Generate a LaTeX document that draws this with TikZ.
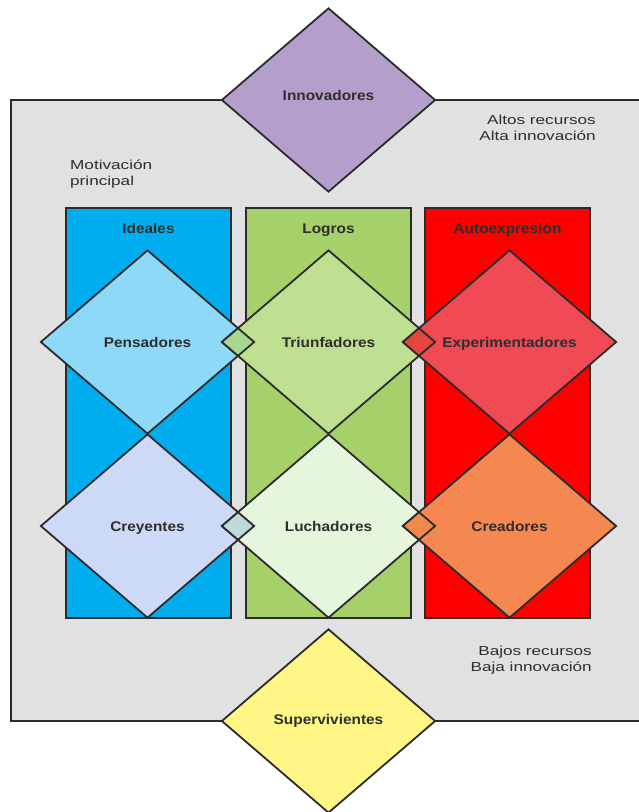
\documentclass[tikz,border=0pt]{standalone}
\usepackage{fontspec}
\setmainfont{Liberation Sans}
\newfontfamily\labfont[FakeStretch=1.1]{Liberation Sans}
\newfontfamily\cornerfont[FakeStretch=1.32]{Liberation Sans}
\usetikzlibrary{shapes.geometric}
\definecolor{lineC}{HTML}{2B2B2B}
\definecolor{textC}{HTML}{2E2E2E}
\definecolor{frameC}{HTML}{E1E1E1}
\definecolor{innovC}{HTML}{B49FCC}
\definecolor{supervC}{HTML}{FFF685}
\definecolor{blueC}{HTML}{00AEEF}
\definecolor{greenC}{HTML}{A6D16A}
\definecolor{redC}{HTML}{FF0000}
\definecolor{pensC}{HTML}{8ED8F8}
\definecolor{triC}{HTML}{BEDF90}
\definecolor{expC}{HTML}{F04A55}
\definecolor{creyC}{HTML}{CCDAF7}
\definecolor{luchC}{HTML}{E6F6DC}
\definecolor{creaC}{HTML}{F58750}
\definecolor{ovPT}{HTML}{A8D890}
\definecolor{ovTE}{HTML}{E4463E}
\definecolor{ovCL}{HTML}{BED9D8}
\definecolor{ovLC}{HTML}{F08A4C}
\tikzset{
  bigdia/.style={diamond, draw=lineC, line width=1.8pt, minimum width=214pt,
    minimum height=184pt, inner sep=0pt, text=textC, text height=10pt, text depth=0pt,
    font=\labfont\bfseries\fontsize{14}{16}\selectfont},
  smalldia/.style={diamond, draw=lineC, line width=1.8pt, minimum width=33pt,
    minimum height=28.4pt, inner sep=0pt},
  colbox/.style={rectangle, draw=lineC, line width=1.8pt, minimum width=165pt,
    minimum height=410pt, inner sep=0pt},
  collabel/.style={text=textC, inner sep=0pt, text height=10pt, text depth=0pt,
    font=\labfont\bfseries\fontsize{14}{16}\selectfont},
  cornertext/.style={text=textC, inner sep=0pt,
    font=\cornerfont\fontsize{13}{16}\selectfont}
}
\begin{document}
\begin{tikzpicture}[x=1pt,y=-1pt]
\useasboundingbox (0,0) rectangle (639,812);
\clip (0,0) rectangle (639,812);
% frame
\node[rectangle, draw=lineC, fill=frameC, line width=1.8pt, minimum width=649pt,
  minimum height=621pt, inner sep=0pt] (frame) at (335.5,410.5) {};
% columns
\node[colbox, fill=blueC] (colI) at (148.5,413) {};
\node[colbox, fill=greenC] (colL) at (328.5,413) {};
\node[colbox, fill=redC] (colA) at (507.5,413) {};
\node[collabel] (labI) at (148.5,228) {Ideales};
\node[collabel] (labL) at (328.5,228) {Logros};
\node[collabel] (labA) at (507.5,228) {Autoexpresión};
% outer diamonds
\node[bigdia, fill=innovC] (innov) at (328.5,100) {\raisebox{5pt}{Innovadores}};
\node[bigdia, fill=supervC] (superv) at (328.5,721) {\raisebox{2pt}{Supervivientes}};
% row 1
\node[bigdia, fill=pensC] (pens) at (147.5,342) {Pensadores};
\node[bigdia, fill=triC] (triu) at (328.5,342) {Triunfadores};
\node[bigdia, fill=expC] (expe) at (509.5,342) {Experimentadores};
% row 2
\node[bigdia, fill=creyC] (crey) at (147.5,526) {Creyentes};
\node[bigdia, fill=luchC] (luch) at (328.5,526) {Luchadores};
\node[bigdia, fill=creaC] (crea) at (509.5,526) {Creadores};
% overlaps
\node[smalldia, fill=ovPT] (ovA) at (238,342) {};
\node[smalldia, fill=ovTE] (ovB) at (419,342) {};
\node[smalldia, fill=ovCL] (ovC) at (238,526) {};
\node[smalldia, fill=ovLC] (ovD) at (419,526) {};
% corner texts
\node[cornertext, anchor=east, align=right] (hi) at (596,128) {Altos recursos\\Alta innovación};
\node[cornertext, anchor=west, align=left] (mot) at (70,174) {Motivación\\principal};
\node[cornertext, anchor=east, align=right] (lo) at (592,660) {Bajos recursos\\Baja innovación};
\end{tikzpicture}
\end{document}
